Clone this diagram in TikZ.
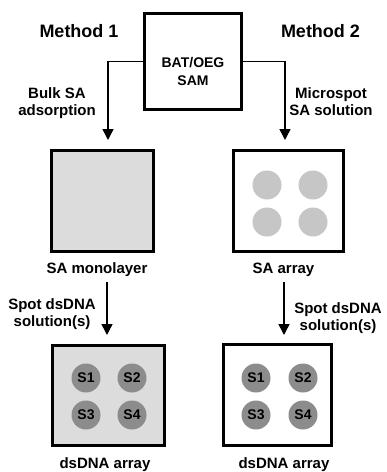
\documentclass[tikz,border=0pt]{standalone}
\usepackage{fontspec}
\setmainfont{Liberation Sans}
\usetikzlibrary{arrows.meta}
\definecolor{panelgray}{HTML}{DCDCDC}
\definecolor{spotlight}{HTML}{C6C6C6}
\definecolor{spotdark}{HTML}{8C8C8C}
\tikzset{
  panel/.style={draw=black, line width=3pt, inner sep=0pt, minimum width=#1},
  lbl/.style={font=\fontsize{15}{17}\selectfont\bfseries, inner sep=0pt, align=center},
  hdr/.style={font=\fontsize{18}{20}\selectfont\bfseries, inner sep=0pt},
  lspot/.style={circle, fill=spotlight, minimum size=29pt, inner sep=0pt},
  dspot/.style={circle, fill=spotdark, minimum size=29pt, inner sep=0pt,
     font=\fontsize{14}{16}\selectfont\bfseries},
  conn/.style={line width=1.5pt, -{Triangle[length=11pt,width=11pt]}}
}
\begin{document}
\begin{tikzpicture}[x=1pt,y=-1pt]
\useasboundingbox (0,0) rectangle (387,472);
% headers
\node[hdr, anchor=base] (m1) at (79,37) {Method 1};
\node[hdr, anchor=base] (m2) at (320.5,37) {Method 2};
% top box
\node[panel=97pt, minimum height=96pt] (sam) at (193,61.5) {};
\node[lbl, font=\fontsize{14}{18}\selectfont\bfseries, anchor=north] (samtxt) at (193,57) {BAT/OEG\\SAM};
% middle boxes
\node[panel=102pt, minimum height=101pt, fill=panelgray] (mono) at (102.5,201) {};
\node[panel=110pt, minimum height=101pt, fill=white] (arr) at (288.5,201) {};
\node[lspot] (l1) at (267,185) {};
\node[lspot] (l2) at (313,185) {};
\node[lspot] (l3) at (267,222) {};
\node[lspot] (l4) at (313,222) {};
% bottom boxes
\node[panel=112pt, minimum height=100pt, fill=panelgray] (dna1) at (108.5,395.5) {};
\node[panel=108pt, minimum height=101pt, fill=white] (dna2) at (277.5,395) {};
\node[dspot] (a1) at (86,378) {S1};
\node[dspot] (a2) at (132,378) {S2};
\node[dspot] (a3) at (86,415) {S3};
\node[dspot] (a4) at (132,415) {S4};
\node[dspot] (b1) at (256,378) {S1};
\node[dspot] (b2) at (303,378) {S2};
\node[dspot] (b3) at (256,415) {S3};
\node[dspot] (b4) at (303,415) {S4};
% labels
\node[lbl, anchor=north] (bulk) at (57,87) {Bulk SA\\adsorption};
\node[lbl, anchor=north] (micro) at (331,87) {Microspot\\SA solution};
\node[lbl, anchor=base] (monolab) at (97,273) {SA monolayer};
\node[lbl, anchor=base] (arrlab) at (283.5,273) {SA array};
\node[lbl, anchor=north] (spot1) at (52,298) {Spot dsDNA\\solution(s)};
\node[lbl, anchor=north] (spot2) at (338,302) {Spot dsDNA\\solution(s)};
\node[lbl, anchor=base] (dnalab1) at (105,468) {dsDNA array};
\node[lbl, anchor=base] (dnalab2) at (284,468) {dsDNA array};
% connectors
\coordinate (e1) at (108,140);
\coordinate (e2) at (285,140);
\coordinate (s3) at (107,282);
\coordinate (e3) at (107,335);
\coordinate (s4) at (284,282);
\coordinate (e4) at (284,335);
\draw[conn] (sam.west) -| (e1);
\draw[conn] (sam.east) -| (e2);
\draw[conn] (s3) -- (e3);
\draw[conn] (s4) -- (e4);
\end{tikzpicture}
\end{document}
